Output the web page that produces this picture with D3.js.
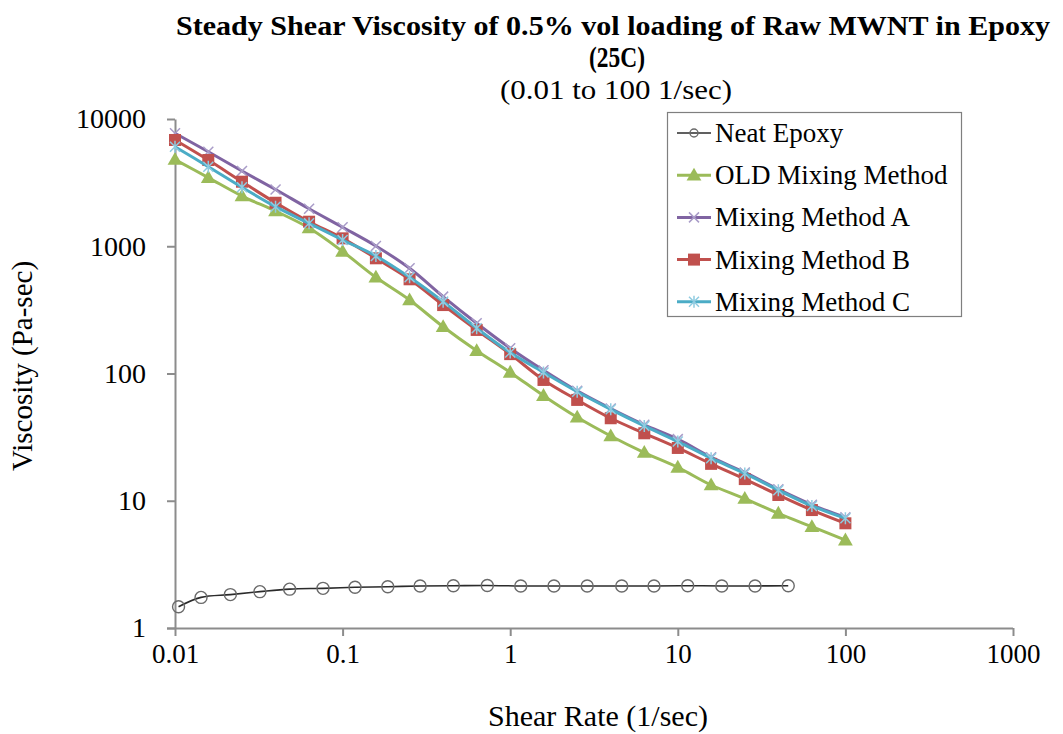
<!DOCTYPE html>
<html>
<head>
<meta charset="utf-8">
<script src="https://cdn.jsdelivr.net/npm/d3@7"></script>
<style>
  html, body { margin: 0; padding: 0; background: #fff; }
  svg { display: block; }
  text { font-family: "Liberation Serif", "Times New Roman", serif; fill: #000; }
</style>
</head>
<body>
<svg id="chart" width="1063" height="734"></svg>
<script>
// Shear rates (1/sec) for the MWNT samples: five points per decade
const shearRates = [0.01, 0.0158, 0.0251, 0.0398, 0.0631, 0.1, 0.158, 0.251, 0.398, 0.631,
                    1, 1.58, 2.51, 3.98, 6.31, 10, 15.8, 25.1, 39.8, 63.1, 100];

// Viscosity (Pa-sec) for each mixing method
const oldMethod = [4800, 3460, 2480, 1890, 1390, 910, 570, 378, 233, 151,
                   102, 67, 45.3, 32.3, 23.9, 18.3, 13.3, 10.4, 7.96, 6.25, 4.9];
const methodA   = [7720, 5530, 3900, 2790, 1970, 1410, 1005, 671, 402, 248,
                   158, 106, 73, 53, 39.5, 30.5, 22, 16.7, 12.3, 9.3, 7.4];
const methodB   = [6840, 4760, 3215, 2197, 1559, 1154, 804, 550, 345, 220,
                   142, 89, 62, 44.5, 33.9, 26, 19.5, 14.8, 11.1, 8.45, 6.65];
const methodC   = [6060, 4220, 2906, 2046, 1514, 1120, 838, 570, 367, 227,
                   146, 102, 71.9, 52.3, 38.7, 29.2, 21.6, 16.4, 12.1, 9.1, 7.28];

// Neat epoxy was measured on its own shear-rate grid
const neatRates = [0.0105, 0.0143, 0.0214, 0.0321, 0.0483, 0.0764, 0.1186, 0.186, 0.29, 0.458,
                   0.73, 1.156, 1.824, 2.88, 4.63, 7.21, 11.46, 18.3, 28.9, 45.6];
const neatEpoxy = [1.47, 1.74, 1.83, 1.93, 2.02, 2.05, 2.09, 2.11, 2.14, 2.15,
                   2.16, 2.14, 2.14, 2.14, 2.14, 2.14, 2.15, 2.14, 2.14, 2.15];

const xTicks = [0.01, 0.1, 1, 10, 100, 1000];
const yTicks = [1, 10, 100, 1000, 10000];

const seriesNames = ["Neat Epoxy", "OLD Mixing  Method", "Mixing  Method  A", "Mixing  Method  B", "Mixing  Method  C"];

const svg = d3.select("#chart");

const x = d3.scaleLog().domain([0.01, 1000]).range([175, 1013]);
const y = d3.scaleLog().domain([1, 10000]).range([628, 119]);

// Titles
svg.append("text").attr("x", 613).attr("y", 35).attr("text-anchor", "middle")
  .attr("font-size", 28).attr("font-weight", "bold")
  .attr("textLength", 874).attr("lengthAdjust", "spacingAndGlyphs")
  .text("Steady Shear Viscosity of 0.5% vol loading of Raw MWNT in Epoxy");
svg.append("text").attr("x", 617).attr("y", 67).attr("text-anchor", "middle")
  .attr("font-size", 29).attr("font-weight", "bold")
  .attr("textLength", 56).attr("lengthAdjust", "spacingAndGlyphs")
  .text("(25C)");
svg.append("text").attr("x", 616).attr("y", 99).attr("text-anchor", "middle")
  .attr("font-size", 28)
  .attr("textLength", 232).attr("lengthAdjust", "spacingAndGlyphs")
  .text("(0.01 to 100 1/sec)");

// Axes
const axisColor = "#8c8c8c";
const fmt = d => String(d);

const gx = svg.append("g").attr("transform", "translate(0,628)")
  .call(d3.axisBottom(x).tickValues(xTicks).tickFormat(fmt).tickSize(8).tickSizeOuter(0));
const gy = svg.append("g").attr("transform", "translate(175,0)")
  .call(d3.axisLeft(y).tickValues(yTicks).tickFormat(fmt).tickSize(8).tickSizeOuter(0));

[gx, gy].forEach(g => {
  g.select(".domain").attr("stroke", axisColor).attr("stroke-width", 2);
  g.selectAll(".tick line").attr("stroke", axisColor).attr("stroke-width", 2);
  g.selectAll(".tick text")
    .attr("font-family", "'Liberation Serif', 'Times New Roman', serif").attr("fill", "#000");
});
gx.selectAll(".tick text").attr("font-size", 27).attr("dy", "0.9em");
gy.selectAll(".tick text").attr("font-size", 28).attr("x", -29);
// x-axis line continues left over the y axis a little
gx.select(".domain").attr("d", "M167,0.5H1013");

// Axis titles
svg.append("text").attr("x", 598).attr("y", 726).attr("text-anchor", "middle")
  .attr("font-size", 30).text("Shear Rate (1/sec)");
svg.append("text").attr("transform", "translate(32,366) rotate(-90)").attr("text-anchor", "middle")
  .attr("font-size", 29).text("Viscosity (Pa-sec)");

const line = d3.line().curve(d3.curveCatmullRom.alpha(0.5));

// Marker painters
const markers = {
  circle: (g, cx, cy, s) => g.append("circle").attr("cx", cx).attr("cy", cy).attr("r", s.r)
    .attr("fill", "none").attr("stroke", s.mk).attr("stroke-width", 1.4),
  triangle: (g, cx, cy, s) => g.append("path")
    .attr("d", d3.symbol().type(d3.symbolTriangle).size(95)())
    .attr("transform", `translate(${cx},${cy + 1})`).attr("fill", s.mk),
  cross: (g, cx, cy, s) => g.append("path")
    .attr("d", `M${cx - 5},${cy - 5}L${cx + 5},${cy + 5}M${cx - 5},${cy + 5}L${cx + 5},${cy - 5}`)
    .attr("stroke", s.mk).attr("stroke-width", 1.5),
  square: (g, cx, cy, s) => g.append("rect").attr("x", cx - 6).attr("y", cy - 6)
    .attr("width", 12).attr("height", 12).attr("fill", s.mk),
  star: (g, cx, cy, s) => g.append("path")
    .attr("d", `M${cx - 5},${cy - 5}L${cx + 5},${cy + 5}M${cx - 5},${cy + 5}L${cx + 5},${cy - 5}M${cx},${cy - 6}L${cx},${cy + 6}`)
    .attr("stroke", s.mk).attr("stroke-width", 1.5)
};

const series = [
  { name: seriesNames[0], xs: neatRates, ys: neatEpoxy, color: "#2b2b2b", mk: "#6a6a6a", width: 1.6, marker: "circle", r: 6 },
  { name: seriesNames[1], xs: shearRates, ys: oldMethod, color: "#9bbb59", mk: "#9bbb59", width: 3, marker: "triangle" },
  { name: seriesNames[2], xs: shearRates, ys: methodA, color: "#8064a2", mk: "#a99cc8", width: 3, marker: "cross" },
  { name: seriesNames[3], xs: shearRates, ys: methodB, color: "#c0504d", mk: "#c0504d", width: 3, marker: "square" },
  { name: seriesNames[4], xs: shearRates, ys: methodC, color: "#4bacc6", mk: "#8fcbe0", width: 3, marker: "star" }
];

const plot = svg.append("g");
series.forEach(s => {
  const pts = s.xs.map((v, i) => [x(v), y(s.ys[i])]);
  const g = plot.append("g");
  g.append("path").attr("d", line(pts)).attr("fill", "none")
    .attr("stroke", s.color).attr("stroke-width", s.width);
  pts.forEach(p => markers[s.marker](g, p[0], p[1], s));
});

// Legend
const lg = svg.append("g");
lg.append("rect").attr("x", 667.5).attr("y", 112.5).attr("width", 294).attr("height", 204)
  .attr("fill", "#fff").attr("stroke", "#7f7f7f").attr("stroke-width", 1.2);
series.forEach((s, i) => {
  const cy = 133 + i * 42.2;
  const g = lg.append("g");
  g.append("line").attr("x1", 677).attr("x2", 711).attr("y1", cy).attr("y2", cy)
    .attr("stroke", s.color).attr("stroke-width", s.width);
  markers[s.marker](g, 694, cy, Object.assign({}, s, { r: 4 }));
  lg.append("text").attr("x", 715).attr("y", cy + 9).attr("font-size", 27).text(s.name);
});
</script>
</body>
</html>
